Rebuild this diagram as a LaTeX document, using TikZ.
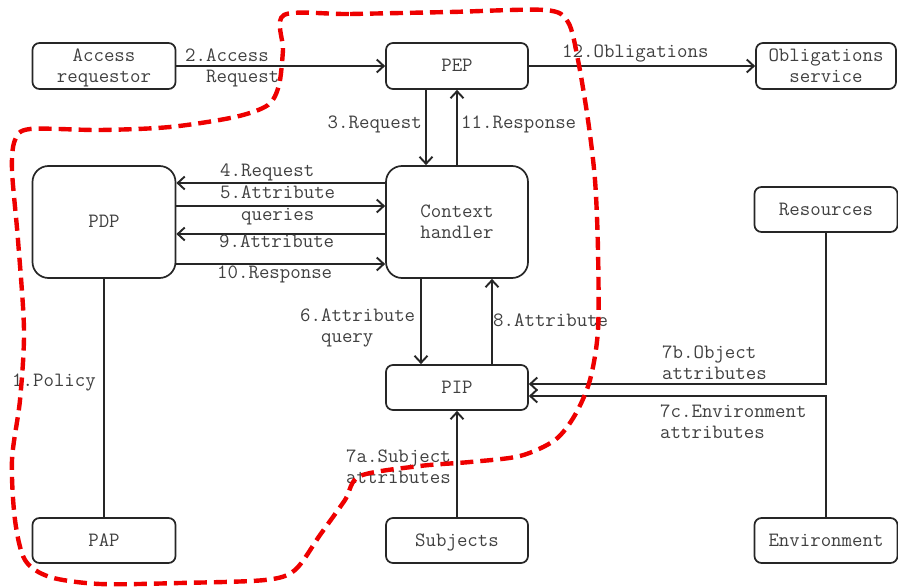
\documentclass[tikz,border=0pt]{standalone}
\usepackage{fontspec}
\usetikzlibrary{arrows.meta}
\newcommand\mystrut{\rule[-4pt]{0pt}{20pt}}
\begin{document}
\begin{tikzpicture}[x=1pt,y=-1pt,
  every node/.style={font=\ttfamily\fontsize{20.3}{21.4}\selectfont, text=black!75},
  box/.style={draw=black!85, line width=1.7pt, rounded corners=7pt, minimum width=143pt, minimum height=46pt, inner sep=0pt, align=center},
  bigbox/.style={box, rounded corners=16pt, minimum height=112pt},
  lbl/.style={inner sep=0pt, align=left},
  arr/.style={draw=black!85, line width=1.9pt, -{Straight Barb[length=7pt,width=13pt]}},
  ln/.style={draw=black!85, line width=1.9pt},
  zone/.style={draw={rgb,255:red,238;green,0;blue,0}, line width=4.4pt, dash pattern=on 13pt off 7pt}]
\useasboundingbox (0,0) rectangle (898,588);

% boxes
\node[box] (ar) at (104,66) {Access\mystrut\\requestor\mystrut};
\node[box, minimum width=142pt] (pep) at (457,66) {PEP\mystrut};
\node[box, minimum width=140pt] (obl) at (826,66) {Obligations\mystrut\\service\mystrut};
\node[bigbox] (pdp) at (104,222) {PDP\mystrut};
\node[bigbox, minimum width=142pt] (ch) at (457,222) {Context\mystrut\\handler\mystrut};
\node[box, minimum height=45pt] (res) at (826,209.5) {Resources\mystrut};
\node[box, minimum width=142pt, minimum height=45pt] (pip) at (457,387.5) {PIP\mystrut};
\node[box, minimum height=45pt] (pap) at (104,540.5) {PAP\mystrut};
\node[box, minimum width=142pt, minimum height=45pt] (sub) at (457,540.5) {Subjects\mystrut};
\node[box, minimum height=45pt] (env) at (826,540.5) {Environment\mystrut};

% connectors
\draw[arr] (ar.east) -- (pep.west);
\draw[arr] (pep.east) -- (obl.west);
\draw[arr] ([xshift=-31pt]pep.south) -- ([xshift=-31pt]ch.north);
\draw[arr] (ch.north) -- (pep.south);
\draw[arr] ([yshift=39pt]ch.west) -- ([yshift=39pt]pdp.east);
\draw[arr] ([yshift=16pt]pdp.east) -- ([yshift=16pt]ch.west);
\draw[arr] ([yshift=-12pt]ch.west) -- ([yshift=-12pt]pdp.east);
\draw[arr] ([yshift=-42pt]pdp.east) -- ([yshift=-42pt]ch.west);
\draw[arr] ([xshift=-36pt]ch.south) -- ([xshift=-36pt]pip.north);
\draw[arr] ([xshift=35pt]pip.north) -- ([xshift=35pt]ch.south);
\draw[arr] (res.south) |- ([yshift=3.5pt]pip.east);
\draw[arr] (env.north) |- ([yshift=-8.5pt]pip.east);
\draw[arr] (sub.north) -- (pip.south);
\draw[ln] (pdp.south) -- (pap.north);

% labels
\node[lbl, anchor=west] (l2) at (185,66.4) {2.Access\mystrut\\\phantom{00}Request\mystrut};
\node[lbl, anchor=west] (l12) at (562,52.3) {12.Obligations\mystrut};
\node[lbl, anchor=east] (l3) at (422,122.3) {3.Request\mystrut};
\node[lbl, anchor=west] (l11) at (461,123) {11.Response\mystrut};
\node[lbl, anchor=west] (l4) at (220,170.7) {4.Request\mystrut};
\node[lbl, anchor=west] (l5) at (220,203.7) {5.Attribute\mystrut\\\phantom{00}queries\mystrut};
\node[lbl, anchor=west] (l9) at (219,242) {9.Attribute\mystrut};
\node[lbl, anchor=west] (l10) at (217,273) {10.Response\mystrut};
\node[lbl, anchor=west] (l6) at (300,326.4) {6.Attribute\mystrut\\\phantom{00}query\mystrut};
\node[lbl, anchor=west] (l8) at (493,320.7) {8.Attribute\mystrut};
\node[lbl, anchor=west] (l1) at (12,380.7) {1.Policy\mystrut};
\node[lbl, anchor=west] (l7b) at (662,363) {7b.Object\mystrut\\attributes\mystrut};
\node[lbl, anchor=west] (l7c) at (660,422) {7c.Environment\mystrut\\attributes\mystrut};
\node[lbl, anchor=west] (l7a) at (346,467) {7a.Subject\mystrut\\attributes\mystrut};

% trust zone
\draw[zone] plot[smooth cycle, tension=0.5] coordinates {
 (284,15) (350,14) (450,12) (545,10) (568,22) (578,60) (588,120) (595,180)
 (598,250) (598,330) (590,380) (575,415) (555,440) (520,456) (470,462)
 (420,466) (360,476) (345,500) (320,535) (295,570) (265,580) (180,583)
 (100,584) (50,577) (25,560) (15,520) (12,460) (20,400) (24,330) (18,240)
 (12,170) (15,140) (30,129) (100,130) (170,127) (235,117) (268,105) (279,85) (283,50)};
\end{tikzpicture}
\end{document}
